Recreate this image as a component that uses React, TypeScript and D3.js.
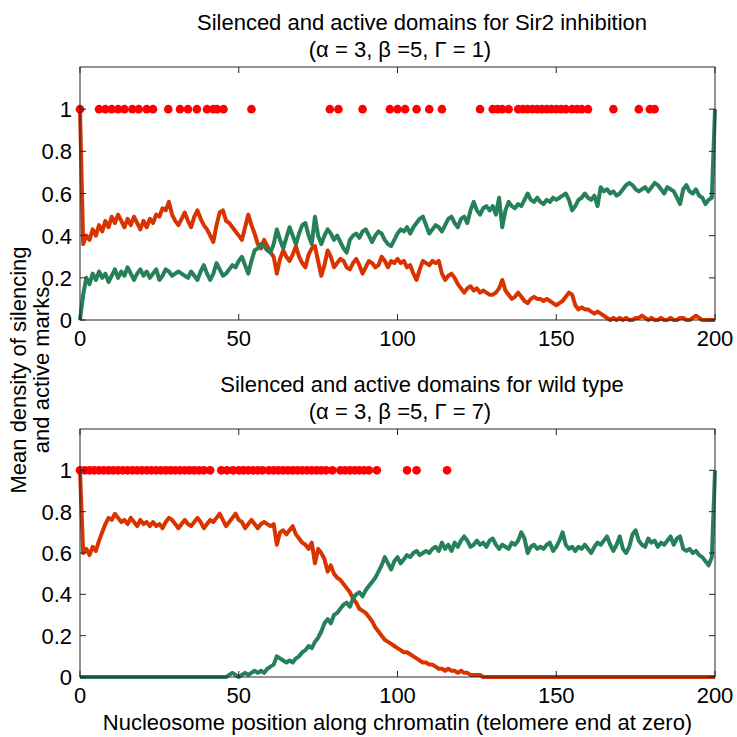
import React, { useEffect, useRef } from "react";
import * as d3 from "d3";

// mean density per nucleosome position 0..200, Sir2 inhibition
const sir2Silencing = [
  1.0, 0.36, 0.4, 0.38, 0.43, 0.4, 0.45, 0.42, 0.47, 0.44,
  0.49, 0.46, 0.5, 0.47, 0.44, 0.48, 0.45, 0.49, 0.46, 0.43,
  0.47, 0.44, 0.48, 0.46, 0.5, 0.49, 0.53, 0.52, 0.56, 0.5,
  0.47, 0.45, 0.48, 0.51, 0.47, 0.44, 0.49, 0.52, 0.48, 0.45,
  0.43, 0.4, 0.37, 0.45, 0.51, 0.52, 0.47, 0.46, 0.44, 0.42,
  0.4, 0.38, 0.44, 0.5, 0.45, 0.41, 0.36, 0.34, 0.38, 0.35,
  0.32, 0.3, 0.22, 0.29, 0.33, 0.3, 0.28, 0.31, 0.35, 0.3,
  0.27, 0.25, 0.31, 0.34, 0.35, 0.28, 0.21, 0.26, 0.33, 0.3,
  0.25, 0.27, 0.29, 0.28, 0.25, 0.24, 0.27, 0.29, 0.26, 0.22,
  0.25, 0.28, 0.27, 0.25, 0.26, 0.3, 0.28, 0.25, 0.28, 0.27,
  0.29, 0.27, 0.28, 0.25, 0.26, 0.22, 0.19, 0.24, 0.28, 0.27,
  0.26, 0.28, 0.27, 0.28, 0.22, 0.19, 0.21, 0.22, 0.2, 0.17,
  0.15, 0.13, 0.15, 0.16, 0.14, 0.15, 0.13, 0.14, 0.13, 0.12,
  0.12, 0.13, 0.15, 0.19, 0.14, 0.12, 0.1, 0.11, 0.13, 0.11,
  0.09, 0.08, 0.1, 0.11, 0.1, 0.1, 0.09, 0.1, 0.09, 0.08,
  0.07, 0.08, 0.09, 0.11, 0.13, 0.12, 0.07, 0.05, 0.06, 0.05,
  0.05, 0.04, 0.03, 0.04, 0.03, 0.02, 0.01, 0.0, 0.01, 0.0,
  0.01, 0.0, 0.01, 0.0, 0.0, 0.01, 0.01, 0.02, 0.01, 0.0,
  0.01, 0.0, 0.0, 0.01, 0.0, 0.0, 0.01, 0.0, 0.0, 0.01,
  0.01, 0.0, 0.0, 0.01, 0.02, 0.01, 0.0, 0.0, 0.0, 0.0,
  0.0,
];

const sir2Active = [
  0.0, 0.12, 0.2, 0.17, 0.22, 0.19, 0.23, 0.2, 0.22, 0.18,
  0.21, 0.24, 0.2, 0.23, 0.21, 0.25, 0.22, 0.19, 0.22, 0.24,
  0.21, 0.23, 0.2, 0.22, 0.24, 0.19, 0.21, 0.24, 0.23, 0.21,
  0.22, 0.23, 0.22, 0.21, 0.2, 0.23, 0.21, 0.19, 0.23, 0.26,
  0.22, 0.19, 0.22, 0.27, 0.24, 0.21, 0.22, 0.24, 0.26, 0.25,
  0.28, 0.3, 0.26, 0.22, 0.28, 0.33, 0.34, 0.36, 0.35, 0.33,
  0.32, 0.36, 0.43, 0.38, 0.34, 0.39, 0.44, 0.4, 0.36, 0.41,
  0.45, 0.46, 0.4, 0.36, 0.49, 0.4, 0.36, 0.4, 0.43, 0.41,
  0.38, 0.4, 0.37, 0.34, 0.32, 0.38, 0.4, 0.41, 0.39, 0.42,
  0.43, 0.4, 0.37, 0.4, 0.42, 0.41, 0.38, 0.36, 0.35, 0.38,
  0.41, 0.43, 0.42, 0.44, 0.41, 0.44, 0.46, 0.48, 0.49, 0.45,
  0.41, 0.43, 0.45, 0.44, 0.42, 0.45, 0.48, 0.49, 0.46, 0.44,
  0.48, 0.49, 0.46, 0.52, 0.56, 0.52, 0.5, 0.53, 0.54, 0.52,
  0.54, 0.5, 0.58, 0.44, 0.52, 0.56, 0.54, 0.53, 0.55, 0.54,
  0.57, 0.6, 0.57, 0.56, 0.58, 0.56, 0.55, 0.57, 0.56, 0.58,
  0.57, 0.58, 0.59, 0.6, 0.57, 0.52, 0.54, 0.57, 0.58, 0.6,
  0.58, 0.57, 0.59, 0.54, 0.63, 0.61, 0.62, 0.6, 0.61, 0.59,
  0.6, 0.62, 0.64, 0.65, 0.64, 0.62, 0.61, 0.62, 0.63, 0.61,
  0.63, 0.65, 0.64, 0.62, 0.6, 0.63, 0.62, 0.61, 0.58, 0.55,
  0.62, 0.64, 0.61, 0.6, 0.62, 0.59, 0.58, 0.55, 0.57, 0.58,
  1.0,
];

// wild type
const wildSilencing = [
  1.0, 0.6, 0.62, 0.59, 0.63, 0.61, 0.66, 0.7, 0.74, 0.77,
  0.76, 0.79, 0.77, 0.75, 0.76, 0.74, 0.77, 0.75, 0.73, 0.76,
  0.74, 0.75, 0.73, 0.75, 0.73, 0.74, 0.72, 0.75, 0.77, 0.76,
  0.74, 0.72, 0.74, 0.76, 0.74, 0.73, 0.75, 0.77, 0.75, 0.72,
  0.74, 0.76, 0.75, 0.77, 0.79, 0.76, 0.73, 0.75, 0.77, 0.79,
  0.76, 0.75, 0.72, 0.74, 0.76, 0.74, 0.72, 0.74, 0.75, 0.74,
  0.73, 0.74, 0.64, 0.7, 0.71, 0.69, 0.71, 0.73, 0.69, 0.67,
  0.65, 0.64, 0.62, 0.65, 0.55, 0.62, 0.6, 0.57, 0.51, 0.54,
  0.5, 0.48, 0.47, 0.45, 0.43, 0.41, 0.38, 0.36, 0.33, 0.32,
  0.31, 0.29, 0.27, 0.24, 0.22, 0.2, 0.18, 0.17, 0.16, 0.15,
  0.14, 0.13, 0.12, 0.12, 0.11, 0.1, 0.09, 0.08, 0.07, 0.07,
  0.06, 0.06, 0.05, 0.04, 0.04, 0.03, 0.04, 0.03, 0.03, 0.02,
  0.03, 0.02, 0.02, 0.01, 0.01, 0.01, 0.01, 0.0, 0.0, 0.0,
  0.0, 0.0, 0.0, 0.0, 0.0, 0.0, 0.0, 0.0, 0.0, 0.0,
  0.0, 0.0, 0.0, 0.0, 0.0, 0.0, 0.0, 0.0, 0.0, 0.0,
  0.0, 0.0, 0.0, 0.0, 0.0, 0.0, 0.0, 0.0, 0.0, 0.0,
  0.0, 0.0, 0.0, 0.0, 0.0, 0.0, 0.0, 0.0, 0.0, 0.0,
  0.0, 0.0, 0.0, 0.0, 0.0, 0.0, 0.0, 0.0, 0.0, 0.0,
  0.0, 0.0, 0.0, 0.0, 0.0, 0.0, 0.0, 0.0, 0.0, 0.0,
  0.0, 0.0, 0.0, 0.0, 0.0, 0.0, 0.0, 0.0, 0.0, 0.0,
  0.0,
];

const wildActive = [
  0.0, 0.0, 0.0, 0.0, 0.0, 0.0, 0.0, 0.0, 0.0, 0.0,
  0.0, 0.0, 0.0, 0.0, 0.0, 0.0, 0.0, 0.0, 0.0, 0.0,
  0.0, 0.0, 0.0, 0.0, 0.0, 0.0, 0.0, 0.0, 0.0, 0.0,
  0.0, 0.0, 0.0, 0.0, 0.0, 0.0, 0.0, 0.0, 0.0, 0.0,
  0.0, 0.0, 0.0, 0.0, 0.0, 0.0, 0.0, 0.01, 0.02, 0.01,
  0.0, 0.01, 0.02, 0.01, 0.02, 0.03, 0.02, 0.03, 0.02, 0.04,
  0.05, 0.06, 0.1, 0.09, 0.08, 0.07, 0.08, 0.07, 0.09, 0.1,
  0.12, 0.13, 0.15, 0.14, 0.17, 0.19, 0.22, 0.26, 0.28, 0.26,
  0.3, 0.31, 0.33, 0.35, 0.36, 0.34, 0.38, 0.4, 0.41, 0.39,
  0.42, 0.44, 0.46, 0.48, 0.51, 0.54, 0.58, 0.55, 0.52, 0.56,
  0.58, 0.55, 0.57, 0.59, 0.58, 0.6, 0.61, 0.59, 0.6, 0.61,
  0.6, 0.62, 0.63, 0.61, 0.65, 0.62, 0.64, 0.61, 0.65, 0.63,
  0.66, 0.68, 0.66, 0.63, 0.64, 0.66, 0.64, 0.65, 0.63, 0.66,
  0.67, 0.64, 0.62, 0.64, 0.63, 0.62, 0.65, 0.64, 0.66, 0.7,
  0.67, 0.6, 0.63, 0.64, 0.62, 0.63, 0.62, 0.64, 0.65, 0.61,
  0.63, 0.66, 0.7, 0.64, 0.62, 0.63, 0.61, 0.63, 0.62, 0.64,
  0.62, 0.6, 0.63, 0.65, 0.64, 0.66, 0.68, 0.64, 0.61, 0.64,
  0.68, 0.62, 0.6, 0.63, 0.69, 0.71, 0.66, 0.64, 0.63, 0.67,
  0.65, 0.66, 0.63, 0.65, 0.64, 0.66, 0.68, 0.64, 0.67, 0.68,
  0.62, 0.61, 0.62, 0.6, 0.61, 0.59, 0.58, 0.56, 0.54, 0.58,
  1.0,
];

// positions where the snapshot shows a silenced nucleosome (drawn at 1)
const sir2Dots = [
  0, 6, 8, 10, 12, 14, 16.5, 18.5, 21, 23, 27.8, 31.5, 34, 36.8, 40, 42, 43.2, 45.2,
  54, 78.7, 81.4, 89, 97.6, 100, 102.4, 106, 110, 114, 126, 130, 131.5, 133, 135,
  138, 139.5, 141, 142.5, 144, 145.5, 147, 148.5, 150, 151.5, 153, 155, 156.5, 158,
  160, 168, 176, 179.5, 181,
];
const wildDots = [
  0, 1.5, 3, 4.5, 6, 7.5, 9, 10.5, 12, 13.5, 15, 16.5, 18, 19.5, 21, 22.5, 24, 25.5,
  27, 28.5, 30, 31.5, 33, 34.5, 36, 37.5, 39, 41, 44.5, 46.3, 48.2, 50, 51.5, 53,
  54.5, 56, 57.5, 59.5, 61, 62.5, 64, 65.5, 67, 68.5, 70, 71.5, 73, 74.5, 76, 77.5,
  79.5, 82, 83.5, 85, 86.5, 88, 89.5, 91, 93.5, 103, 106, 115.6,
];

const xTicks = [0, 50, 100, 150, 200];
const yTicks = [0, 0.2, 0.4, 0.6, 0.8, 1];

const panels = [
  {
    title: "Silenced and active domains for Sir2 inhibition",
    params: "(\u03b1 = 3, \u03b2 =5, \u0393 = 1)",
    silencing: sir2Silencing,
    active: sir2Active,
    dots: sir2Dots,
    top: 67,
    bottom: 320,
  },
  {
    title: "Silenced and active domains for wild type",
    params: "(\u03b1 = 3, \u03b2 =5, \u0393 = 7)",
    silencing: wildSilencing,
    active: wildActive,
    dots: wildDots,
    top: 429,
    bottom: 677,
  },
];

const RED = "#d93300";
const GREEN = "#26805a";
const DOT = "#ff0000";
const AXIS = "#262626";
const FONT = "'Liberation Sans', Arial, sans-serif";

export default function App() {
  const svgRef = useRef(null);
  const width = 737;
  const height = 737;

  useEffect(() => {
    const svg = d3.select(svgRef.current);
    svg.selectAll("*").remove();

    const left = 80;
    const right = 715;
    const x = d3.scaleLinear().domain([0, 200]).range([left, right]);

    svg.append("rect").attr("width", width).attr("height", height).attr("fill", "#fff");

    panels.forEach((p) => {
      const y = d3.scaleLinear().domain([0, 1.2]).range([p.bottom, p.top]);
      const g = svg.append("g");

      const line = d3
        .line()
        .x((d, i) => x(i))
        .y((d) => y(d));

      g.append("path")
        .datum(p.silencing)
        .attr("fill", "none")
        .attr("stroke", RED)
        .attr("stroke-width", 4)
        .attr("stroke-linejoin", "round")
        .attr("d", line);

      g.append("path")
        .datum(p.active)
        .attr("fill", "none")
        .attr("stroke", GREEN)
        .attr("stroke-width", 4)
        .attr("stroke-linejoin", "round")
        .attr("d", line);

      g.selectAll("circle")
        .data(p.dots)
        .join("circle")
        .attr("cx", (d) => x(d))
        .attr("cy", y(1))
        .attr("r", 4.3)
        .attr("fill", DOT);

      // box
      g.append("rect")
        .attr("x", left)
        .attr("y", p.top)
        .attr("width", right - left)
        .attr("height", p.bottom - p.top)
        .attr("fill", "none")
        .attr("stroke", AXIS)
        .attr("stroke-width", 1);

      // inward ticks on all four sides
      const tl = 6;
      xTicks.forEach((t) => {
        g.append("line").attr("x1", x(t)).attr("x2", x(t)).attr("y1", p.bottom).attr("y2", p.bottom - tl).attr("stroke", AXIS);
        g.append("line").attr("x1", x(t)).attr("x2", x(t)).attr("y1", p.top).attr("y2", p.top + tl).attr("stroke", AXIS);
        g.append("text")
          .attr("x", x(t))
          .attr("y", p.bottom + 26)
          .attr("text-anchor", "middle")
          .attr("font-family", FONT)
          .attr("font-size", 22)
          .attr("fill", "#000")
          .text(t);
      });
      yTicks.forEach((t) => {
        g.append("line").attr("x1", left).attr("x2", left + tl).attr("y1", y(t)).attr("y2", y(t)).attr("stroke", AXIS);
        g.append("line").attr("x1", right).attr("x2", right - tl).attr("y1", y(t)).attr("y2", y(t)).attr("stroke", AXIS);
        g.append("text")
          .attr("x", left - 8)
          .attr("y", y(t) + 8)
          .attr("text-anchor", "end")
          .attr("font-family", FONT)
          .attr("font-size", 22)
          .attr("fill", "#000")
          .text(String(t));
      });

      // two-line title
      g.append("text")
        .attr("x", 422)
        .attr("y", p.top - 37)
        .attr("text-anchor", "middle")
        .attr("font-family", FONT)
        .attr("font-size", 22)
        .attr("fill", "#000")
        .text(p.title);
      g.append("text")
        .attr("x", 400)
        .attr("y", p.top - 10)
        .attr("text-anchor", "middle")
        .attr("font-family", FONT)
        .attr("font-size", 22)
        .attr("fill", "#000")
        .text(p.params);
    });

    // y-axis title, two lines
    const yt = svg
      .append("text")
      .attr("transform", `translate(0,370) rotate(-90)`)
      .attr("text-anchor", "middle")
      .attr("font-family", FONT)
      .attr("font-size", 22)
      .attr("fill", "#000");
    yt.append("tspan").attr("x", 0).attr("y", 26).text("Mean density of silencing");
    yt.append("tspan").attr("x", 0).attr("y", 49).text("and active marks");

    // x-axis title
    svg
      .append("text")
      .attr("x", (left + right) / 2)
      .attr("y", 730)
      .attr("text-anchor", "middle")
      .attr("font-family", FONT)
      .attr("font-size", 22)
      .attr("fill", "#000")
      .text("Nucleosome position along chromatin (telomere end at zero)");
  }, []);

  return (
    <svg
      ref={svgRef}
      width={width}
      height={height}
      style={{ position: "absolute", left: 0, top: 0 }}
    ></svg>
  );
}
